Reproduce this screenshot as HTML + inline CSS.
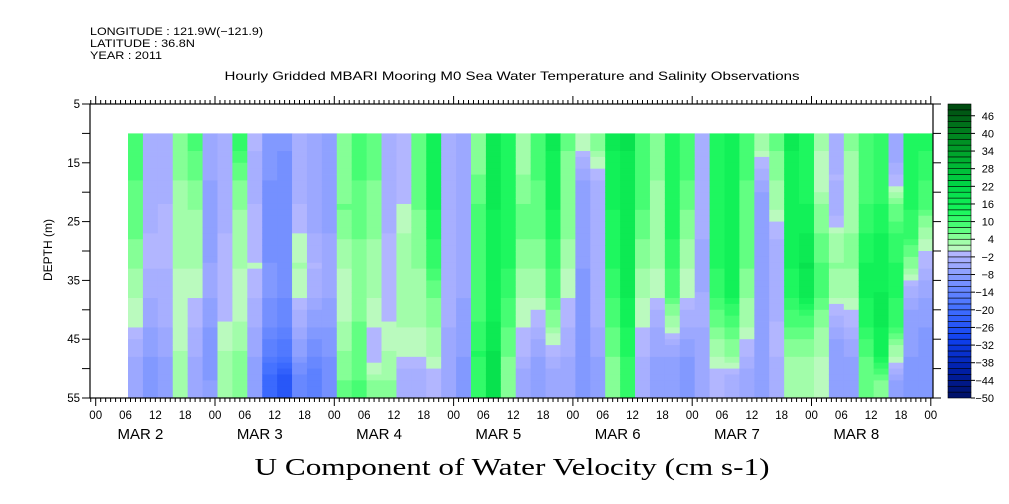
<!DOCTYPE html>
<html><head><meta charset="utf-8"><style>
body{margin:0;background:#fff;}
svg{display:block;font-family:"Liberation Sans",sans-serif;}
</style></head><body>
<svg id="chart" width="1009" height="504" viewBox="0 0 1009 504" xmlns="http://www.w3.org/2000/svg">
<rect width="1009" height="504" fill="#fff"/>
<g font-size="11" fill="#000">
<text x="90" y="35" textLength="173" lengthAdjust="spacingAndGlyphs">LONGITUDE : 121.9W(−121.9)</text>
<text x="90" y="47" textLength="105" lengthAdjust="spacingAndGlyphs">LATITUDE : 36.8N</text>
<text x="90" y="59" textLength="72" lengthAdjust="spacingAndGlyphs">YEAR : 2011</text>
</g>
<text x="512" y="80" text-anchor="middle" font-size="12" textLength="575" lengthAdjust="spacingAndGlyphs">Hourly Gridded MBARI Mooring M0 Sea Water Temperature and Salinity Observations</text>
<g id="cells"></g>
<g id="axes" stroke="#000" fill="none"></g>
<g id="labels" font-size="11.5" fill="#000"></g>
<g id="cbar"></g>
<text x="0" y="0" transform="translate(52,250) rotate(-90)" text-anchor="middle" font-size="12">DEPTH (m)</text>
<text x="512" y="475" text-anchor="middle" font-family="Liberation Serif, serif" font-size="24" textLength="515" lengthAdjust="spacingAndGlyphs">U Component of Water Velocity (cm s-1)</text>
</svg>
<script>
// ---- data ----
const startHour = 6.5;      // hours after 00 MAR 2
const stepHours = 3;
const depthRows = [12.5,17.5,22.5,27.5,32.5,37.5,42.5,47.5,52.5]; // row centers (m)
const velocity = [
[8,8,6,6,4,2,0,-4,-6],[-4,-4,-4,-2,-2,-4,-6,-8,-10],[-4,-4,-2,-2,-2,-4,-4,-6,-8],[4,4,2,2,2,0,0,2,2],
[8,6,4,2,2,0,-2,-4,-6],[-6,-6,-8,-8,-6,-6,-8,-10,-8],[-4,-4,-4,-2,-2,-2,0,2,2],[10,6,4,2,2,0,2,4,4],
[-2,-4,-2,-2,0,-2,-4,-6,-8],[-10,-10,-12,-12,-10,-10,-12,-16,-22],[-10,-12,-12,-12,-12,-12,-14,-18,-26],[-4,-4,-2,0,2,0,-4,-8,-14],
[-6,-6,-6,-4,-2,-4,-8,-12,-16],[-8,-8,-8,-6,-6,-6,-8,-10,-12],[4,4,6,4,2,0,2,4,6],[8,8,6,6,4,4,6,6,8],
[6,6,4,4,2,2,0,-2,4],[-4,-4,-4,-2,-2,-2,0,2,4],[-2,-2,0,2,2,2,2,0,-4],[6,6,6,4,4,2,2,0,-4],
[14,14,14,12,10,6,4,2,-2],[-4,-4,-4,-4,-4,-4,-4,-6,-6],[-6,-6,-6,-6,-6,-6,-8,-8,-10],[4,6,8,8,8,8,10,12,10],
[16,16,16,14,14,14,16,18,18],[12,12,12,12,12,10,8,6,4],[2,4,6,6,4,2,0,-2,-6],[8,8,6,6,4,2,-2,-6,-8],
[16,14,14,12,10,8,4,-2,-6],[6,4,4,4,2,0,-2,-4,-6],[0,-6,-8,-8,-8,-10,-10,-10,-10],[4,-2,-4,-4,-4,-4,-4,-6,-8],
[16,14,14,12,12,10,8,6,4],[18,16,16,16,16,16,14,12,10],[8,8,8,6,4,2,0,-2,-4],[4,4,2,2,2,0,-4,-6,-8],
[12,12,12,12,10,8,2,-6,-8],[8,8,6,4,2,0,-4,-8,-10],[-4,-4,-4,-4,-6,-4,-4,-6,-6],[12,12,12,12,12,10,6,2,-2],
[14,14,14,14,14,14,8,4,-4],[8,8,6,6,6,4,2,-2,-6],[2,-4,-8,-8,-8,-8,-8,-8,-8],[6,4,2,-2,-4,-4,-2,-2,-4],
[16,14,14,14,14,12,8,4,2],[12,12,14,16,18,16,8,4,2],[2,0,4,6,8,8,4,2,0],[-4,-2,-4,2,4,2,-4,-8,-8],
[4,2,2,4,4,2,-2,-6,-8],[8,8,10,12,14,14,12,8,6],[10,10,12,14,14,16,16,14,4],[-6,-2,6,10,12,12,10,2,-8],
[12,12,12,10,4,-4,-8,-8,-10],[12,10,8,2,-2,-6,-8,-10,-10]
];
const depthTicks = [5,15,25,35,45,55];
const hourLabels = ["00","06","12","18"];
const dayLabels = ["MAR   2","MAR   3","MAR   4","MAR   5","MAR   6","MAR   7","MAR   8"];
const cbarTicks = [46,40,34,28,22,16,10,4,-2,-8,-14,-20,-26,-32,-38,-44,-50];
const levelMin = -50, levelMax = 50, levelStep = 2;

// ---- scales ----
const X0=95.7, DAYW=119.3, PL=90, PR=933, PT=104, PB=398;
const x = h => X0 + h*DAYW/24;
const y = d => PT + (d-5)*(PB-PT)/50;
const NS="http://www.w3.org/2000/svg";
function mk(tag, parent, attrs){const e=document.createElementNS(NS,tag);for(const k in attrs)e.setAttribute(k,attrs[k]);parent.appendChild(e);return e;}
const stops=[[-50,[0,16,100]],[-40,[0,32,170]],[-30,[16,64,240]],[-20,[64,110,255]],[-12,[110,140,255]],[-6,[150,165,255]],[-1,[178,182,255]],[1,[186,250,190]],[4,[150,255,160]],[8,[80,255,120]],[14,[20,245,90]],[22,[0,215,70]],[30,[0,180,50]],[40,[0,130,30]],[50,[0,70,15]]];
function color(v){
  let b=Math.floor((v-levelMin)/levelStep); b=Math.max(0,Math.min(49,b));
  const c=levelMin+b*levelStep+1;
  for(let i=0;i<stops.length-1;i++){const[a,ca]=stops[i],[bb,cb]=stops[i+1];
    if(c<=bb||i==stops.length-2){const t=Math.max(0,Math.min(1,(c-a)/(bb-a)));
      return `rgb(${ca.map((q,j)=>Math.round(q+(cb[j]-q)*t)).join(",")})`;}}
}
// ---- heatmap ----
const cells=document.getElementById('cells');
velocity.forEach((col,ci)=>{
  const h0=startHour+ci*stepHours;
  const x1=x(h0), x2=Math.min(x(h0+stepHours),PR);
  for(let d=10; d<55; d+=1){
    const dc=d+0.5;
    let v;
    if(dc<=depthRows[0]) v=col[0];
    else if(dc>=depthRows[depthRows.length-1]) v=col[col.length-1];
    else{let k=0;while(depthRows[k+1]<dc)k++;const t=(dc-depthRows[k])/(depthRows[k+1]-depthRows[k]);v=col[k]+(col[k+1]-col[k])*t;}
    const r=mk('rect',cells,{x:x1.toFixed(2),y:y(d).toFixed(2),width:(x2-x1+0.4).toFixed(2),height:(y(d+1)-y(d)+0.4).toFixed(2),fill:color(v)});
    
    
  }
});
// ---- axes ----
const ax=document.getElementById('axes'), lb=document.getElementById('labels');
mk('rect',ax,{x:PL,y:PT,width:PR-PL,height:PB-PT,'stroke-width':1.2});
for(let h=-1;h<=169;h++){
  const xx=x(h); if(xx<PL||xx>PR) continue;
  const major=h%24===0;
  mk('line',ax,{x1:xx,x2:xx,y1:PB,y2:PB+(major?8:4)});
  mk('line',ax,{x1:xx,x2:xx,y1:PT,y2:PT-(major?8:4)});
  if(h%6===0){const t=mk('text',lb,{x:xx,y:419,'text-anchor':'middle'});t.textContent=hourLabels[(h/6)%4];
    }
}
dayLabels.forEach((s,i)=>{const t=mk('text',lb,{x:x(i*24+9),y:439,'text-anchor':'middle','font-size':15,'xml:space':'preserve'});t.textContent=s;
  });
for(let d=5;d<=55;d+=5){
  mk('line',ax,{x1:PL,x2:PL-8,y1:y(d),y2:y(d)});
  mk('line',ax,{x1:PR,x2:PR+8,y1:y(d),y2:y(d)});}
depthTicks.forEach(d=>{const t=mk('text',lb,{x:80,y:y(d)+4,'text-anchor':'end'});t.textContent=d;
  });
// ---- colorbar ----
const cb=document.getElementById('cbar');
const CX=948, CW=23, cy=v=>PB-(v-levelMin)*(PB-PT)/(levelMax-levelMin);
for(let v=levelMin; v<levelMax; v+=levelStep){
  const r=mk('rect',cb,{x:CX,y:cy(v+levelStep),width:CW,height:cy(v)-cy(v+levelStep),fill:color(v+1),stroke:'#000','stroke-width':0.6});
  
}
cbarTicks.forEach(v=>{mk('line',cb,{x1:CX+CW,x2:CX+CW+4,y1:cy(v),y2:cy(v),stroke:'#000'});
  const t=mk('text',cb,{x:994,y:cy(v)+4,'text-anchor':'end','font-size':11});t.textContent=v<0?'−'+(-v):v;
  });
</script>
</body></html>
